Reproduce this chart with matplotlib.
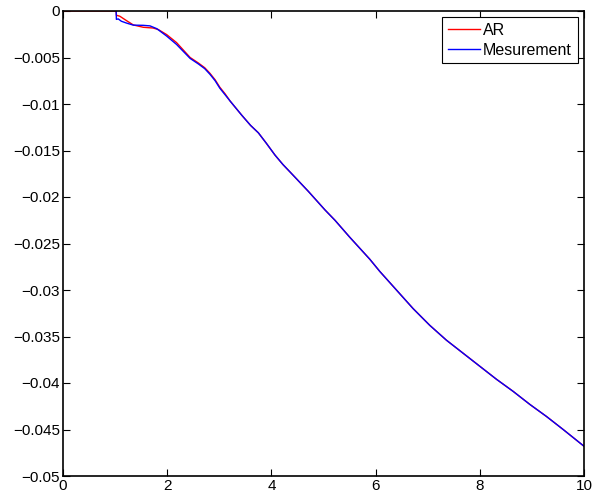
import matplotlib
matplotlib.use("Agg")
import matplotlib.pyplot as plt
from matplotlib.ticker import FuncFormatter

plt.rcParams['font.family'] = ['Liberation Sans', 'DejaVu Sans']

# Measurement (blue)
x_meas = [1.02, 1.025, 1.06, 1.12, 1.22, 1.35, 1.54, 1.67, 1.80, 1.99, 2.18,
          2.44, 2.60, 2.72, 2.82, 2.92, 3.01, 3.11, 3.21, 3.43, 3.60, 3.75,
          3.90, 4.07, 4.22, 4.39, 4.71, 5.03, 5.22, 5.5, 5.89, 6.08, 6.40,
          6.72, 7.04, 7.36, 7.68, 8.00, 8.32, 8.64, 8.96, 9.28, 9.60, 10.0]
y_meas = [0, -0.0009, -0.00085, -0.0011, -0.0013, -0.00152, -0.00154, -0.00160,
          -0.0019, -0.0027, -0.0036, -0.0051, -0.0057, -0.0062, -0.0068, -0.0075,
          -0.0083, -0.0090, -0.0097, -0.0112, -0.0123, -0.0131, -0.0142, -0.0155,
          -0.0165, -0.0175, -0.0194, -0.0214, -0.0225, -0.0243, -0.0267, -0.0280,
          -0.0300, -0.0320, -0.0338, -0.0354, -0.0368, -0.0382, -0.0396, -0.0409,
          -0.0423, -0.0436, -0.0450, -0.0468]

# AR model (red)
x_ar = [0, 1.02, 1.025, 1.09, 1.22, 1.35, 1.54, 1.73, 1.83, 1.99, 2.18, 2.44,
        2.60, 2.72, 2.82, 2.92, 3.01, 3.11, 3.21, 3.43, 3.60, 3.75, 3.90, 4.07,
        4.22, 4.39, 4.71, 5.03, 5.22, 5.5, 5.89, 6.08, 6.40, 6.72, 7.04, 7.36,
        7.68, 8.00, 8.32, 8.64, 8.96, 9.28, 9.60, 10.0]
y_ar = [0, 0, -0.00046, -0.00056, -0.00104, -0.0015, -0.00175, -0.00183, -0.0020,
        -0.00254, -0.0034, -0.0050, -0.0056, -0.0061, -0.0067, -0.0074, -0.0082,
        -0.0089, -0.0097, -0.0112, -0.0123, -0.0131, -0.0142, -0.0155, -0.0165,
        -0.0175, -0.0194, -0.0214, -0.0225, -0.0243, -0.0267, -0.0280, -0.0300,
        -0.0320, -0.0338, -0.0354, -0.0368, -0.0382, -0.0396, -0.0409, -0.0423,
        -0.0436, -0.0450, -0.0468]

x_ticks = [0, 2, 4, 6, 8, 10]
y_ticks = [0, -0.005, -0.01, -0.015, -0.02, -0.025, -0.03, -0.035, -0.04, -0.045, -0.05]

fig = plt.figure(figsize=(5.92, 4.97), dpi=100)
ax = fig.add_axes([63 / 592, 21 / 497, 521 / 592, 465 / 497])

ax.plot(x_ar, y_ar, color='#ff0000', lw=1.0, label='AR')
ax.plot(x_meas, y_meas, color='#0000ff', lw=1.0, label='Mesurement')

ax.set_xlim(0, 10)
ax.set_ylim(-0.05, 0)
ax.set_xticks(x_ticks)
ax.set_yticks(y_ticks)

fmt = FuncFormatter(lambda v, p: ('%g' % v).replace('-', '\u2212'))
ax.xaxis.set_major_formatter(fmt)
ax.yaxis.set_major_formatter(fmt)
ax.tick_params(direction='in', length=5, width=0.8, top=True, right=True,
               labelsize=11, colors='black', pad=2)
for s in ax.spines.values():
    s.set_linewidth(1.2)

leg = ax.legend(loc='upper right', fontsize=11.5, fancybox=False, framealpha=1,
                edgecolor='black', borderaxespad=0.4, handlelength=2.0,
                borderpad=0.35, labelspacing=0.3, handletextpad=0.2)
leg.get_frame().set_linewidth(0.8)

fig.savefig('out.png', dpi=100)
